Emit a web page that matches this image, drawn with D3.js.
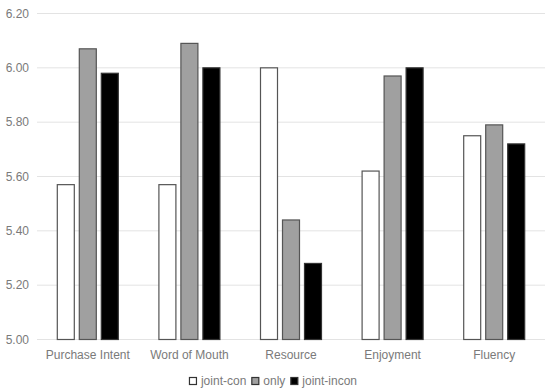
<!DOCTYPE html>
<html><head><meta charset="utf-8">
<script src="https://cdn.jsdelivr.net/npm/d3@7"></script>
<style>body{margin:0;background:#fff}svg{display:block}</style>
</head><body>
<svg id="c" width="550" height="392"></svg>
<script>
const categories = ["Purchase Intent","Word of Mouth","Resource","Enjoyment","Fluency"];
const seriesNames = ["joint-con","only","joint-incon"];
const jointCon = [5.57,5.57,6.00,5.62,5.75];
const only = [6.07,6.09,5.44,5.97,5.79];
const jointIncon = [5.98,6.00,5.28,6.00,5.72];
const yTicks = [5.00,5.20,5.40,5.60,5.80,6.00,6.20];

const fills = ["#ffffff","#a0a0a0","#000000"];
const strokes = ["#555555","#555555","#333333"];
const series = [jointCon, only, jointIncon];

const svg = d3.select("#c");
const L = 37, R = 545, T = 13, B = 339;
const x = d3.scaleBand().domain(categories).range([L,R]);
const y = d3.scaleLinear().domain([5.0,6.2]).range([B,T]);
const bw = 18, gap = 4;

svg.append("g").selectAll("line").data(yTicks).join("line")
  .attr("x1",L).attr("x2",R).attr("y1",d=>y(d)+0.5).attr("y2",d=>y(d)+0.5)
  .attr("stroke","#e3e3e3").attr("stroke-width",1);

svg.append("g").selectAll("text").data(yTicks).join("text")
  .attr("x",29).attr("y",d=>y(d)+4.5).attr("text-anchor","end")
  .attr("font-family","Liberation Sans, Arial, sans-serif").attr("font-size",12)
  .attr("fill","#7a7a7a").text(d=>d.toFixed(2));

series.forEach((vals,si)=>{
  svg.append("g").selectAll("rect").data(vals).join("rect")
    .attr("x",(d,i)=>x(categories[i])+x.bandwidth()/2 + (si-1)*(bw+gap) - bw/2 + 0.5)
    .attr("y",d=>y(d)+0.5)
    .attr("width",bw-1)
    .attr("height",d=>B-y(d))
    .attr("fill",fills[si]).attr("stroke",strokes[si]).attr("stroke-width",1.2);
});

svg.append("g").selectAll("text").data(categories).join("text")
  .attr("x",d=>x(d)+x.bandwidth()/2).attr("y",359).attr("text-anchor","middle")
  .attr("font-family","Liberation Sans, Arial, sans-serif").attr("font-size",12)
  .attr("fill","#7a7a7a").text(d=>d);

// legend
const lg = svg.append("g").attr("font-family","Liberation Sans, Arial, sans-serif").attr("font-size",12);
const items = [];
let cx = 0;
seriesNames.forEach((n,i)=>{
  const t = lg.append("text").attr("y",385).attr("fill","#7a7a7a").text(n);
  const w = t.node().getComputedTextLength();
  items.push({t,w,i});
});
const sq = 8, sgap = 4, igap = 5;
const total = items.reduce((a,b)=>a+sq+sgap+b.w,0)+igap*(items.length-1);
let px = 273 - total/2;
items.forEach(it=>{
  lg.append("rect").attr("x",px+0.5).attr("y",377.5).attr("width",sq-1).attr("height",sq-1)
    .attr("fill",fills[it.i]).attr("stroke","#333").attr("stroke-width",1.2);
  it.t.attr("x",px+sq+sgap);
  px += sq+sgap+it.w+igap;
});
</script>
</body></html>
